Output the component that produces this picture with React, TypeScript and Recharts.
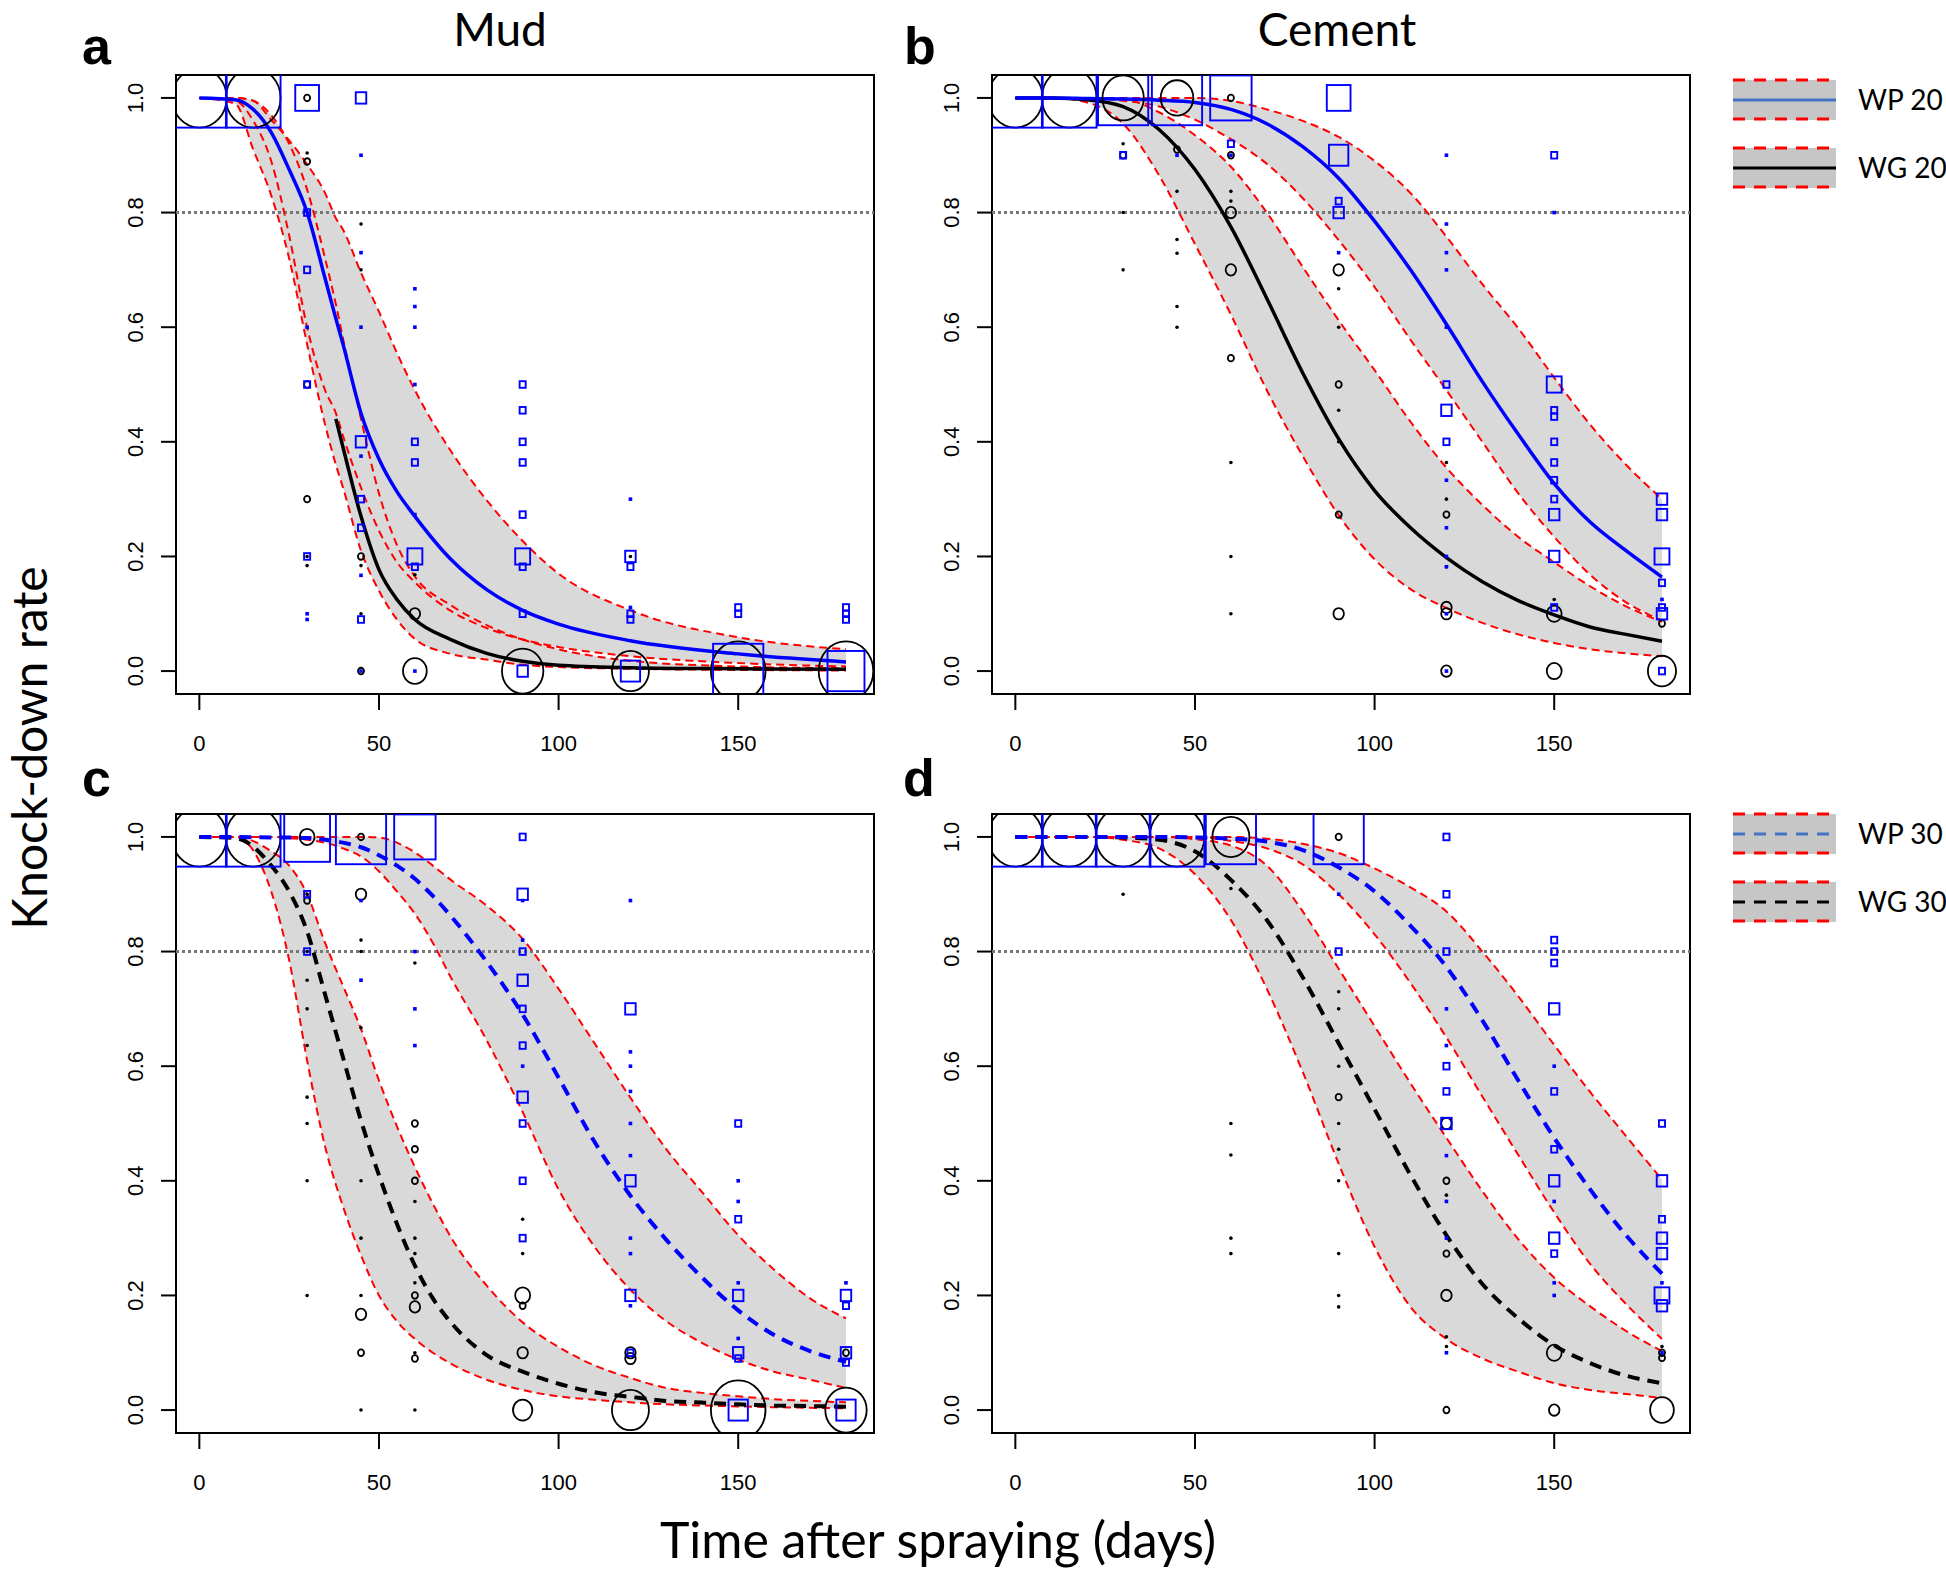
import React from 'react';
import { ComposedChart, Area, Line, Scatter, XAxis, YAxis, ReferenceLine, ReferenceArea } from 'recharts';

// ---------------- Panel a : Mud, 20 ----------------
const aDays = [0, 10, 15, 20, 25, 30, 35, 38, 40, 45, 50, 55, 60, 70, 80, 90, 100, 120, 150, 180];
const aWPmean = [1.0, 0.997, 0.98, 0.94, 0.875, 0.8, 0.685, 0.615, 0.57, 0.45, 0.37, 0.313, 0.27, 0.195, 0.142, 0.106, 0.082, 0.053, 0.03, 0.016];
const aWPlo = [1.0, 0.995, 0.96, 0.89, 0.76, 0.6, 0.49, 0.45, 0.41, 0.32, 0.245, 0.19, 0.155, 0.105, 0.075, 0.055, 0.042, 0.026, 0.014, 0.008];
const aWPhi = [1.0, 1.0, 0.995, 0.962, 0.926, 0.884, 0.834, 0.79, 0.77, 0.695, 0.627, 0.555, 0.49, 0.384, 0.298, 0.227, 0.17, 0.106, 0.059, 0.038];
const aWGmean = [null, null, null, null, null, null, null, 0.44, 0.39, 0.27, 0.177, 0.125, 0.09, 0.055, 0.031, 0.017, 0.01, 0.006, 0.004, 0.003];
const aWGlo = [1.0, 0.99, 0.91, 0.83, 0.72, 0.57, 0.43, 0.36, 0.32, 0.21, 0.14, 0.09, 0.056, 0.03, 0.02, 0.011, 0.007, 0.004, 0.002, 0.001];
const aWGhi = [1.0, 1.0, 0.995, 0.97, 0.92, 0.84, 0.72, 0.64, 0.58, 0.44, 0.31, 0.22, 0.165, 0.115, 0.08, 0.055, 0.038, 0.018, 0.008, 0.005];
// points: [day, knock-down rate, number of replicates]
const aWGpts = [
  [0, 1, 13], [15, 1, 13],
  [30, 1, 2], [30, 0.904, 1], [30, 0.889, 2], [30, 0.5, 2], [30, 0.3, 2], [30, 0.2, 1], [30, 0.184, 1],
  [45, 0.78, 1], [45, 0.7, 1], [45, 0.2, 2], [45, 0.184, 1], [45, 0.1, 1], [45, 0, 2],
  [60, 0.168, 1], [60, 0.1, 3], [60, 0, 6],
  [90, 0, 10], [120, 0.2, 1], [120, 0, 9], [150, 0, 13], [180, 0, 13],
];
const aWPpts = [
  [0, 1, 13], [15, 1, 13],
  [30, 1, 6], [30, 0.8, 2], [30, 0.7, 2], [30, 0.6, 1], [30, 0.5, 2], [30, 0.2, 2], [30, 0.1, 1], [30, 0.09, 1],
  [45, 1, 3], [45, 0.9, 1], [45, 0.73, 1], [45, 0.6, 1], [45, 0.4, 3], [45, 0.375, 1], [45, 0.3, 2], [45, 0.25, 2], [45, 0.167, 1], [45, 0.09, 2], [45, 0, 1],
  [60, 0.667, 1], [60, 0.636, 1], [60, 0.6, 1], [60, 0.5, 1], [60, 0.4, 2], [60, 0.364, 2], [60, 0.273, 1], [60, 0.2, 4], [60, 0.182, 2], [60, 0, 1],
  [90, 0.5, 2], [90, 0.455, 2], [90, 0.4, 2], [90, 0.364, 2], [90, 0.273, 2], [90, 0.2, 4], [90, 0.182, 2], [90, 0.1, 2], [90, 0, 3],
  [120, 0.3, 1], [120, 0.2, 3], [120, 0.182, 2], [120, 0.111, 1], [120, 0.1, 2], [120, 0.09, 2], [120, 0, 5],
  [150, 0.111, 2], [150, 0.1, 2], [150, 0, 12],
  [180, 0.111, 2], [180, 0.1, 2], [180, 0.09, 2], [180, 0, 9],
];

// ---------------- Panel b : Cement, 20 ----------------
const bDays = [0, 10, 20, 30, 40, 50, 60, 70, 80, 90, 100, 110, 120, 130, 140, 150, 160, 170, 180];
const bWPmean = [1.0, 1.0, 0.999, 0.998, 0.996, 0.992, 0.98, 0.955, 0.915, 0.86, 0.785, 0.7, 0.605, 0.505, 0.413, 0.327, 0.26, 0.21, 0.164];
const bWPhi = [1, 1, 1, 1, 1, 1, 0.995, 0.98, 0.96, 0.932, 0.89, 0.834, 0.758, 0.675, 0.598, 0.512, 0.43, 0.36, 0.3];
const bWPlo = [1, 1, 1, 0.995, 0.985, 0.962, 0.928, 0.885, 0.825, 0.752, 0.67, 0.578, 0.49, 0.4, 0.31, 0.234, 0.168, 0.12, 0.088];
const bWGmean = [1, 1, 0.997, 0.985, 0.945, 0.875, 0.775, 0.65, 0.52, 0.405, 0.315, 0.25, 0.198, 0.156, 0.123, 0.098, 0.077, 0.064, 0.052];
const bWGhi = [1, 1, 1, 0.998, 0.975, 0.935, 0.88, 0.8, 0.705, 0.612, 0.525, 0.435, 0.355, 0.29, 0.234, 0.19, 0.148, 0.113, 0.086];
const bWGlo = [1, 1, 0.992, 0.955, 0.865, 0.745, 0.622, 0.49, 0.375, 0.272, 0.195, 0.143, 0.11, 0.084, 0.064, 0.049, 0.038, 0.031, 0.026];
const bWGpts = [
  [0, 1, 13], [15, 1, 13], [30, 1, 10], [30, 0.92, 1], [30, 0.9, 2], [30, 0.8, 1], [30, 0.7, 1],
  [45, 1, 8], [45, 0.91, 2], [45, 0.837, 1], [45, 0.753, 1], [45, 0.729, 1], [45, 0.636, 1], [45, 0.6, 1],
  [60, 1, 2], [60, 0.9, 2], [60, 0.837, 1], [60, 0.82, 1], [60, 0.8, 3], [60, 0.7, 3], [60, 0.546, 2], [60, 0.364, 1], [60, 0.2, 1], [60, 0.1, 1],
  [90, 0.7, 3], [90, 0.667, 1], [90, 0.6, 1], [90, 0.5, 2], [90, 0.455, 1], [90, 0.4, 1], [90, 0.273, 2], [90, 0.1, 3],
  [120, 0.364, 1], [120, 0.3, 1], [120, 0.273, 2], [120, 0.182, 1], [120, 0.111, 3], [120, 0.1, 3], [120, 0, 3],
  [150, 0.125, 1], [150, 0.1, 4], [150, 0, 4],
  [180, 0.083, 2], [180, 0, 7],
];
const bWPpts = [
  [0, 1, 13], [15, 1, 13], [30, 1, 12], [30, 0.9, 2],
  [45, 1, 12], [45, 0.9, 1],
  [60, 1, 10], [60, 0.92, 2], [60, 0.9, 1],
  [90, 1, 6], [90, 0.9, 5], [90, 0.82, 2], [90, 0.8, 3], [90, 0.73, 1],
  [120, 0.9, 1], [120, 0.78, 1], [120, 0.73, 1], [120, 0.7, 1], [120, 0.6, 1], [120, 0.5, 2], [120, 0.455, 3], [120, 0.4, 2], [120, 0.333, 1], [120, 0.25, 1], [120, 0.2, 1], [120, 0.182, 1], [120, 0.1, 1], [120, 0, 1],
  [150, 0.9, 2], [150, 0.8, 1], [150, 0.5, 4], [150, 0.455, 2], [150, 0.444, 2], [150, 0.4, 2], [150, 0.364, 2], [150, 0.333, 2], [150, 0.3, 2], [150, 0.273, 3], [150, 0.2, 3], [150, 0.111, 2],
  [180, 0.3, 3], [180, 0.273, 3], [180, 0.2, 4], [180, 0.154, 2], [180, 0.125, 1], [180, 0.111, 2], [180, 0.1, 3], [180, 0, 2],
];

// ---------------- Panel c : Mud, 30 ----------------
const cDays = [0, 10, 20, 25, 30, 35, 40, 45, 50, 55, 60, 65, 70, 80, 90, 100, 110, 120, 130, 140, 150, 160, 170, 180];
const cWGmean = [1, 0.998, 0.95, 0.905, 0.835, 0.725, 0.615, 0.505, 0.41, 0.325, 0.252, 0.195, 0.153, 0.096, 0.067, 0.046, 0.031, 0.023, 0.016, 0.013, 0.01, 0.008, 0.007, 0.006];
const cWGlo = [1, 1, 0.905, 0.785, 0.61, 0.46, 0.355, 0.27, 0.2, 0.155, 0.124, 0.1, 0.081, 0.053, 0.035, 0.024, 0.018, 0.0135, 0.01, 0.008, 0.0064, 0.005, 0.004, 0.003];
const cWGhi = [1, 1, 0.975, 0.95, 0.9, 0.815, 0.74, 0.665, 0.575, 0.495, 0.424, 0.36, 0.302, 0.217, 0.153, 0.11, 0.078, 0.056, 0.0385, 0.03, 0.024, 0.019, 0.016, 0.0135];
const cWPmean = [1, 1, 0.999, 0.999, 0.998, 0.995, 0.99, 0.982, 0.968, 0.95, 0.927, 0.897, 0.862, 0.782, 0.69, 0.58, 0.468, 0.374, 0.297, 0.231, 0.174, 0.131, 0.103, 0.084];
const cWPhi = [1, 1, 1, 1, 1, 1, 1, 1, 0.999, 0.99, 0.973, 0.95, 0.925, 0.88, 0.822, 0.735, 0.64, 0.545, 0.455, 0.38, 0.305, 0.245, 0.195, 0.16];
const cWPlo = [1, 1, 1, 0.998, 0.995, 0.99, 0.98, 0.966, 0.94, 0.905, 0.866, 0.815, 0.755, 0.645, 0.52, 0.385, 0.285, 0.21, 0.155, 0.117, 0.088, 0.067, 0.053, 0.0385];
const cWGpts = [
  [0, 1, 13], [15, 1, 13], [30, 1, 4], [30, 0.9, 1], [30, 0.889, 2], [30, 0.8, 1], [30, 0.75, 1], [30, 0.7, 1], [30, 0.636, 1], [30, 0.546, 1], [30, 0.5, 1], [30, 0.4, 1], [30, 0.2, 1],
  [45, 1, 2], [45, 0.9, 3], [45, 0.82, 1], [45, 0.8, 1], [45, 0.667, 1], [45, 0.4, 1], [45, 0.3, 1], [45, 0.2, 1], [45, 0.167, 3], [45, 0.1, 2], [45, 0, 1],
  [60, 0.78, 1], [60, 0.5, 2], [60, 0.455, 2], [60, 0.4, 2], [60, 0.364, 1], [60, 0.3, 1], [60, 0.273, 1], [60, 0.222, 1], [60, 0.2, 2], [60, 0.18, 3], [60, 0.1, 1], [60, 0.09, 2], [60, 0, 1],
  [90, 0.333, 1], [90, 0.273, 1], [90, 0.2, 4], [90, 0.182, 2], [90, 0.1, 3], [90, 0, 5],
  [120, 0.1, 3], [120, 0.09, 3], [120, 0, 9],
  [150, 0, 13],
  [180, 0.1, 2], [180, 0, 10],
];
const cWPpts = [
  [0, 1, 13], [15, 1, 13], [30, 1, 11], [30, 0.9, 2], [30, 0.8, 2],
  [45, 1, 12], [45, 0.889, 1], [45, 0.75, 1],
  [60, 1, 10], [60, 0.8, 1], [60, 0.7, 1], [60, 0.636, 1],
  [90, 1, 2], [90, 0.9, 3], [90, 0.889, 1], [90, 0.82, 1], [90, 0.8, 2], [90, 0.75, 3], [90, 0.7, 2], [90, 0.636, 2], [90, 0.6, 1], [90, 0.546, 3], [90, 0.5, 2], [90, 0.4, 2], [90, 0.3, 2],
  [120, 0.889, 1], [120, 0.7, 3], [120, 0.625, 1], [120, 0.6, 1], [120, 0.556, 1], [120, 0.5, 1], [120, 0.444, 1], [120, 0.4, 3], [120, 0.3, 1], [120, 0.273, 1], [120, 0.2, 3], [120, 0.182, 1], [120, 0.1, 2],
  [150, 0.5, 2], [150, 0.4, 1], [150, 0.364, 1], [150, 0.333, 2], [150, 0.222, 1], [150, 0.2, 3], [150, 0.125, 1], [150, 0.1, 3], [150, 0.09, 2], [150, 0, 5],
  [180, 0.222, 1], [180, 0.2, 3], [180, 0.182, 2], [180, 0.1, 3], [180, 0.083, 2], [180, 0, 5],
];

// ---------------- Panel d : Cement, 30 ----------------
const dDays = [0, 10, 20, 30, 40, 50, 60, 70, 80, 90, 100, 110, 120, 130, 140, 150, 160, 170, 180];
const dWGmean = [1, 1, 1, 0.999, 0.995, 0.975, 0.925, 0.855, 0.755, 0.64, 0.525, 0.41, 0.305, 0.22, 0.16, 0.113, 0.082, 0.06, 0.047];
const dWGlo = [1, 1, 1, 0.995, 0.98, 0.935, 0.855, 0.735, 0.59, 0.43, 0.285, 0.18, 0.124, 0.09, 0.067, 0.047, 0.035, 0.028, 0.021];
const dWGhi = [1, 1, 1, 1, 1, 0.996, 0.985, 0.95, 0.87, 0.77, 0.67, 0.57, 0.475, 0.382, 0.298, 0.231, 0.181, 0.138, 0.103];
const dWPmean = [1, 1, 1, 1, 1, 0.999, 0.997, 0.992, 0.977, 0.947, 0.905, 0.845, 0.773, 0.68, 0.575, 0.475, 0.385, 0.305, 0.238];
const dWPhi = [1, 1, 1, 1, 1, 1, 1, 0.997, 0.988, 0.972, 0.945, 0.912, 0.87, 0.8, 0.722, 0.637, 0.555, 0.478, 0.402];
const dWPlo = [1, 1, 1, 1, 1, 1, 0.993, 0.98, 0.952, 0.9, 0.83, 0.745, 0.65, 0.547, 0.445, 0.345, 0.255, 0.185, 0.124];
const dWGpts = [
  [0, 1, 13], [15, 1, 13], [30, 1, 13], [45, 1, 13], [30, 0.9, 1],
  [60, 1, 9], [60, 0.91, 1], [60, 0.5, 1], [60, 0.445, 1], [60, 0.3, 1], [60, 0.273, 1],
  [90, 1, 2], [90, 0.73, 1], [90, 0.7, 1], [90, 0.6, 1], [90, 0.546, 2], [90, 0.5, 1], [90, 0.455, 1], [90, 0.4, 1], [90, 0.273, 1], [90, 0.2, 1], [90, 0.18, 1],
  [120, 0.5, 3], [120, 0.4, 2], [120, 0.375, 1], [120, 0.273, 2], [120, 0.2, 3], [120, 0.128, 1], [120, 0.111, 1], [120, 0, 2],
  [150, 0.1, 4], [150, 0, 3],
  [180, 0.111, 1], [180, 0.1, 2], [180, 0.091, 2], [180, 0, 6],
];
const dWPpts = [
  [0, 1, 13], [15, 1, 13], [30, 1, 13], [45, 1, 13], [60, 1, 12],
  [90, 1, 12], [90, 0.9, 1], [90, 0.8, 2],
  [120, 1, 2], [120, 0.9, 2], [120, 0.8, 2], [120, 0.7, 1], [120, 0.636, 1], [120, 0.6, 2], [120, 0.556, 2], [120, 0.5, 3], [120, 0.444, 1], [120, 0.364, 1], [120, 0.3, 1], [120, 0.1, 1],
  [150, 0.82, 2], [150, 0.8, 2], [150, 0.78, 2], [150, 0.7, 3], [150, 0.6, 1], [150, 0.556, 2], [150, 0.455, 2], [150, 0.4, 3], [150, 0.364, 1], [150, 0.3, 3], [150, 0.273, 2], [150, 0.222, 1], [150, 0.2, 1],
  [180, 0.5, 2], [180, 0.4, 3], [180, 0.333, 2], [180, 0.3, 3], [180, 0.273, 3], [180, 0.222, 1], [180, 0.2, 4], [180, 0.182, 3], [180, 0.1, 1],
];

// ---------------- axis / text ----------------
const xTicks = [0, 50, 100, 150];
const yTicks = [0, 0.2, 0.4, 0.6, 0.8, 1.0];
const xDomain = [-6.5, 187.8];
const yDomain = [-0.04, 1.04];
const threshold = 0.8;
const colTitles = ['Mud', 'Cement'];
const panelLetters = ['a', 'b', 'c', 'd'];
const xLabel = 'Time after spraying (days)';
const yLabel = 'Knock-down rate';
const legendTop = ['WP 20', 'WG 20'];
const legendBottom = ['WP 30', 'WG 30'];

const AXFONT = "'Liberation Sans', Arial, Helvetica, sans-serif";
const TXFONT = "Lato, 'Open Sans', 'DejaVu Sans', sans-serif";
const BAND = '#D9D9D9';
const RED = '#FF0000';
const BLUE = '#0000FF';

const buildRows = (days: number[], wgLo: any[], wgMean: any[], wgHi: any[], wpLo: any[], wpMean: any[], wpHi: any[]) =>
  days.map((d, i) => ({
    d,
    wgLo: wgLo[i], wgMean: wgMean[i], wgHi: wgHi[i], wgBand: [wgLo[i], wgHi[i]],
    wpLo: wpLo[i], wpMean: wpMean[i], wpHi: wpHi[i], wpBand: [wpLo[i], wpHi[i]],
  }));
const toPts = (arr: number[][]) => arr.map(([d, v, n]) => ({ d, v, n }));

const symSize = (n: number) => (n === 1 ? 1.8 : 2.4 * n - 1.5);

const CircleShape = (props: any) => {
  const { cx, cy, payload } = props;
  if (cx == null || cy == null) return null;
  const s = symSize(payload.n);
  if (payload.n === 1) return <ellipse cx={cx} cy={cy} rx={s} ry={s} fill="#000" />;
  return <ellipse cx={cx} cy={cy} rx={s * 0.92} ry={s} fill="none" stroke="#000" strokeWidth={1.8} />;
};
const SquareShape = (props: any) => {
  const { cx, cy, payload } = props;
  if (cx == null || cy == null) return null;
  const s = symSize(payload.n);
  if (payload.n === 1) return <rect x={cx - s} y={cy - s} width={2 * s} height={2 * s} fill={BLUE} />;
  return <rect x={cx - s * 0.92} y={cy - s} width={s * 1.84} height={s * 2} fill="none" stroke={BLUE} strokeWidth={1.9} />;
};

const YTick = (props: any) => {
  const { x, y, payload } = props;
  return (
    <text x={x} y={y} transform={`rotate(-90 ${x} ${y})`} textAnchor="middle" fontSize={22} fontFamily={AXFONT} fill="#000">
      {Number(payload.value).toFixed(1)}
    </text>
  );
};

const PLOT_W = 698;
const PLOT_H = 619;
const ML = 90;
const MT = 30;
const MR = 20;
const XH = 70;

type PanelProps = { rows: any[]; wg: any[]; wp: any[]; dashed: boolean; left: number; top: number };

const Panel = ({ rows, wg, wp, dashed, left, top }: PanelProps) => {
  const meanDash = dashed ? '12 8' : undefined;
  const meanW = dashed ? 4 : 3.5;
  const bound = { stroke: RED, strokeWidth: 2, strokeDasharray: '8 5', dot: false, activeDot: false, isAnimationActive: false } as any;
  return (
    <div style={{ position: 'absolute', left: left - ML, top: top - MT }}>
      <ComposedChart width={ML + PLOT_W + MR} height={MT + PLOT_H + XH} data={rows} margin={{ top: MT, right: MR, bottom: 0, left: 0 }}>
        <XAxis type="number" dataKey="d" domain={xDomain} ticks={xTicks} allowDataOverflow axisLine={false}
          tickLine={{ stroke: '#000', strokeWidth: 2 }} tickSize={16} tickMargin={25} height={XH} interval={0}
          tick={{ fontSize: 22, fill: '#000', fontFamily: AXFONT }} />
        <YAxis type="number" domain={yDomain} ticks={yTicks} allowDataOverflow axisLine={false} width={ML}
          tickLine={{ stroke: '#000', strokeWidth: 2 }} tickSize={15} tickMargin={18} interval={0} tick={YTick} />
        <Area type="monotone" dataKey="wgBand" stroke="none" fill={BAND} fillOpacity={1} isAnimationActive={false} dot={false} activeDot={false} />
        <Area type="monotone" dataKey="wpBand" stroke="none" fill={BAND} fillOpacity={1} isAnimationActive={false} dot={false} activeDot={false} />
        <ReferenceLine y={threshold} stroke="#777777" strokeWidth={3} strokeDasharray="3 3" />
        <Line type="monotone" dataKey="wgLo" {...bound} />
        <Line type="monotone" dataKey="wgHi" {...bound} />
        <Line type="monotone" dataKey="wpLo" {...bound} />
        <Line type="monotone" dataKey="wpHi" {...bound} />
        <Line type="monotone" dataKey="wgMean" stroke="#000" strokeWidth={meanW} strokeDasharray={meanDash} dot={false} activeDot={false} isAnimationActive={false} />
        <Line type="monotone" dataKey="wpMean" stroke={BLUE} strokeWidth={meanW} strokeDasharray={meanDash} dot={false} activeDot={false} isAnimationActive={false} />
        <Scatter data={wg} dataKey="v" shape={CircleShape} isAnimationActive={false} />
        <Scatter data={wp} dataKey="v" shape={SquareShape} isAnimationActive={false} />
        <ReferenceArea x1={xDomain[0]} x2={xDomain[1]} y1={yDomain[0]} y2={yDomain[1]} fill="none" fillOpacity={0} stroke="#000" strokeWidth={2} ifOverflow="visible" />
      </ComposedChart>
    </div>
  );
};

const LegendKey = ({ x, y, label, color, dashed }: { x: number; y: number; label: string; color: string; dashed: boolean }) => (
  <g>
    <rect x={x} y={y - 20} width={103} height={40} fill="#C6C6C6" />
    <line x1={x} x2={x + 103} y1={y - 20} y2={y - 20} stroke={RED} strokeWidth={3} strokeDasharray="12 9" />
    <line x1={x} x2={x + 103} y1={y + 19} y2={y + 19} stroke={RED} strokeWidth={3} strokeDasharray="12 9" />
    <line x1={x} x2={x + 103} y1={y} y2={y} stroke={color} strokeWidth={3} strokeDasharray={dashed ? '12 9' : undefined} />
    <text x={x + 125} y={y + 10} fontSize={28} fontFamily={TXFONT} fill="#000">{label}</text>
  </g>
);

export default function App() {
  const aRows = buildRows(aDays, aWGlo, aWGmean, aWGhi, aWPlo, aWPmean, aWPhi);
  const bRows = buildRows(bDays, bWGlo, bWGmean, bWGhi, bWPlo, bWPmean, bWPhi);
  const cRows = buildRows(cDays, cWGlo, cWGmean, cWGhi, cWPlo, cWPmean, cWPhi);
  const dRows = buildRows(dDays, dWGlo, dWGmean, dWGhi, dWPlo, dWPmean, dWPhi);
  return (
    <div style={{ position: 'absolute', left: 0, top: 0, width: 1946, height: 1572, background: '#fff', overflow: 'hidden' }}>
      <Panel rows={aRows} wg={toPts(aWGpts)} wp={toPts(aWPpts)} dashed={false} left={176} top={75} />
      <Panel rows={bRows} wg={toPts(bWGpts)} wp={toPts(bWPpts)} dashed={false} left={992} top={75} />
      <Panel rows={cRows} wg={toPts(cWGpts)} wp={toPts(cWPpts)} dashed={true} left={176} top={814} />
      <Panel rows={dRows} wg={toPts(dWGpts)} wp={toPts(dWPpts)} dashed={true} left={992} top={814} />
      <svg width={1946} height={1572} style={{ position: 'absolute', left: 0, top: 0, pointerEvents: 'none' }}>
        <text x={500} y={46} textAnchor="middle" fontSize={46} fontFamily={TXFONT} fill="#000">{colTitles[0]}</text>
        <text x={1337} y={46} textAnchor="middle" fontSize={46} fontFamily={TXFONT} fill="#000">{colTitles[1]}</text>
        <text x={82} y={64} fontSize={52} fontWeight="bold" fontFamily={AXFONT} fill="#000">{panelLetters[0]}</text>
        <text x={904} y={64} fontSize={52} fontWeight="bold" fontFamily={AXFONT} fill="#000">{panelLetters[1]}</text>
        <text x={82} y={796} fontSize={52} fontWeight="bold" fontFamily={AXFONT} fill="#000">{panelLetters[2]}</text>
        <text x={903} y={796} fontSize={52} fontWeight="bold" fontFamily={AXFONT} fill="#000">{panelLetters[3]}</text>
        <text x={938} y={1558} textAnchor="middle" fontSize={50} fontFamily={TXFONT} fill="#000">{xLabel}</text>
        <text x={47} y={748} transform="rotate(-90 47 748)" textAnchor="middle" fontSize={48} fontFamily={TXFONT} fill="#000">{yLabel}</text>
        <LegendKey x={1733} y={100} label={legendTop[0]} color="#4472C4" dashed={false} />
        <LegendKey x={1733} y={168} label={legendTop[1]} color="#000" dashed={false} />
        <LegendKey x={1733} y={834} label={legendBottom[0]} color="#4472C4" dashed={true} />
        <LegendKey x={1733} y={902} label={legendBottom[1]} color="#000" dashed={true} />
      </svg>
    </div>
  );
}
